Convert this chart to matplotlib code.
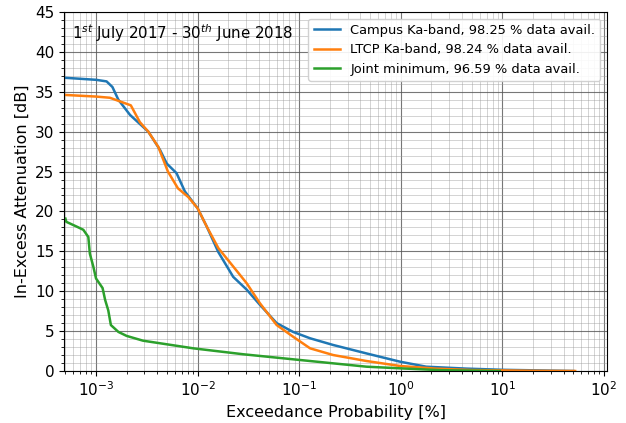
import numpy as np
import matplotlib
matplotlib.use("Agg")
import matplotlib.pyplot as plt

campus_p = [5e-4, 1.0e-3, 1.27e-3, 1.45e-3, 1.66e-3, 2.16e-3, 3.27e-3, 4.27e-3, 4.97e-3, 6.2e-3, 7.5e-3,
            1.0e-2, 1.23e-2, 1.6e-2, 2.24e-2, 3.04e-2, 4.1e-2, 6.0e-2, 8.7e-2, 0.128, 0.216, 0.46, 0.98,
            1.78, 4.4, 10, 50]
campus_a = [36.75, 36.5, 36.3, 35.6, 34.0, 32.1, 30.0, 27.7, 26.0, 24.8, 22.5,
            20.4, 18.1, 14.9, 11.8, 10.2, 8.3, 6.0, 4.9, 4.1, 3.26, 2.2, 1.17,
            0.54, 0.3, 0.15, 0.0]

ltcp_p = [5e-4, 1.0e-3, 1.37e-3, 2.2e-3, 2.7e-3, 3.27e-3, 4.1e-3, 5.1e-3, 6.4e-3, 8.1e-3,
          1.0e-2, 1.23e-2, 1.6e-2, 2.24e-2, 3.04e-2, 4.1e-2, 6.0e-2, 8.7e-2, 0.128, 0.216, 0.46,
          0.98, 2.2, 5, 20, 52]
ltcp_a = [34.6, 34.4, 34.25, 33.3, 31.2, 30.0, 28.1, 25.0, 22.9, 21.8,
          20.4, 18.1, 15.4, 13.1, 11.0, 8.5, 5.76, 4.3, 2.84, 2.0, 1.25,
          0.63, 0.3, 0.12, 0.03, 0.0]

joint_p = [5e-4, 5.1e-4, 6.45e-4, 7.5e-4, 8.4e-4, 8.7e-4, 9.4e-4, 1.0e-3, 1.16e-3, 1.23e-3, 1.32e-3,
           1.4e-3, 1.66e-3, 2.0e-3, 2.9e-3, 9.1e-3, 2.8e-2, 0.128, 0.46, 1.0, 2.5, 9.4]
joint_a = [19.1, 18.7, 18.1, 17.7, 16.8, 14.7, 13.1, 11.6, 10.4, 8.9, 7.6,
           5.76, 4.9, 4.4, 3.8, 2.84, 2.1, 1.25, 0.54, 0.33, 0.1, 0.0]

labels = ["Campus Ka-band, 98.25 % data avail.",
          "LTCP Ka-band, 98.24 % data avail.",
          "Joint minimum, 96.59 % data avail."]

fig = plt.figure(figsize=(6.26, 4.23), dpi=100)
ax = fig.add_axes([64/626, 1-371/423, (607-64)/626, (371-12)/423])

ax.semilogx(campus_p, campus_a, color="#1f77b4", lw=1.8, label=labels[0])
ax.semilogx(ltcp_p, ltcp_a, color="#ff7f0e", lw=1.8, label=labels[1])
ax.semilogx(joint_p, joint_a, color="#2ca02c", lw=1.8, label=labels[2])

ax.set_xlim(4.84e-4, 107)
ax.set_ylim(0, 45)
ax.set_yticks(np.arange(0, 46, 5))
ax.yaxis.set_minor_locator(matplotlib.ticker.MultipleLocator(1))
ax.grid(True, which="major", color="#555555", lw=0.8, alpha=0.8)
ax.grid(True, which="minor", color="#999999", lw=0.6, alpha=0.5)
ax.tick_params(labelsize=11)
ax.set_xlabel("Exceedance Probability [%]", fontsize=11.5)
ax.set_ylabel("In-Excess Attenuation [dB]", fontsize=11.5)
ax.text(0.014, 0.97, r"1$^{st}$ July 2017 - 30$^{th}$ June 2018", transform=ax.transAxes,
        fontsize=10.8, va="top", ha="left")
ax.legend(loc="upper right", fontsize=9.4, framealpha=0.9)
fig.savefig("out.png", dpi=100)
